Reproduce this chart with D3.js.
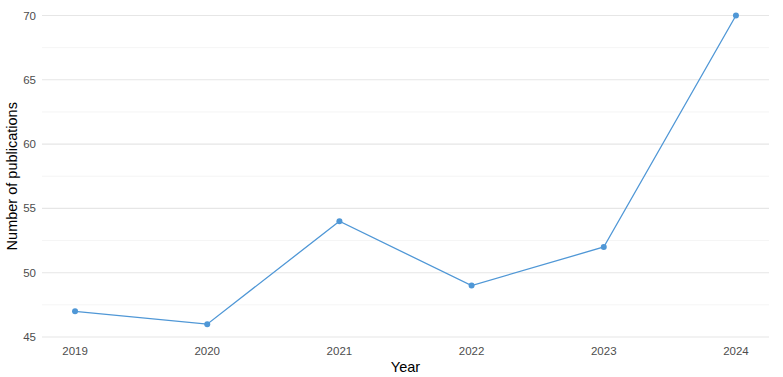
<!DOCTYPE html>
<html>
<head>
    <meta charset="utf-8">
    <title>Publications per year</title>
    <script src="https://d3js.org/d3.v7.min.js"></script>
    <style>
        body { margin: 0; background: #fff; }
        text { font-family: "Liberation Sans", Arial, sans-serif; }
    </style>
</head>
<body>
    <script>
        // data
        var years = [2019, 2020, 2021, 2022, 2023, 2024];
        var publications = [47, 46, 54, 49, 52, 70];
        var yTicks = [45, 50, 55, 60, 65, 70];
        var yMinor = [47.5, 52.5, 57.5, 62.5, 67.5];

        var width = 783, height = 377;

        var svg = d3.select("body").append("svg")
            .attr("width", width)
            .attr("height", height);

        // panel edges
        var left = 42, right = 769;

        var x = d3.scaleLinear()
            .domain([2018.75, 2024.25])
            .range([left, right]);

        var y = d3.scaleLinear()
            .domain([45, 70])
            .range([337, 15.5]);

        // grid lines
        svg.append("g").selectAll("line.minor")
            .data(yMinor)
            .enter().append("line")
            .attr("x1", left).attr("x2", right)
            .attr("y1", function(d) { return y(d); })
            .attr("y2", function(d) { return y(d); })
            .attr("stroke", "#ececec")
            .attr("stroke-width", 0.6);

        svg.append("g").selectAll("line.major")
            .data(yTicks)
            .enter().append("line")
            .attr("x1", left).attr("x2", right)
            .attr("y1", function(d) { return y(d); })
            .attr("y2", function(d) { return y(d); })
            .attr("stroke", "#e6e6e6")
            .attr("stroke-width", 1.1);

        // y tick labels
        svg.append("g").selectAll("text")
            .data(yTicks)
            .enter().append("text")
            .attr("x", 36)
            .attr("y", function(d) { return y(d); })
            .attr("dy", "0.35em")
            .attr("text-anchor", "end")
            .attr("font-size", 11.5)
            .attr("fill", "#4d4d4d")
            .text(function(d) { return d; });

        // x tick labels
        svg.append("g").selectAll("text")
            .data(years)
            .enter().append("text")
            .attr("x", function(d) { return x(d); })
            .attr("y", 355)
            .attr("text-anchor", "middle")
            .attr("font-size", 11.5)
            .attr("fill", "#4d4d4d")
            .text(function(d) { return d; });

        // axis titles
        svg.append("text")
            .attr("x", (left + right) / 2)
            .attr("y", 372)
            .attr("text-anchor", "middle")
            .attr("font-size", 14.5)
            .attr("fill", "#000")
            .text("Year");

        svg.append("text")
            .attr("transform", "translate(17," + y(57.5) + ") rotate(-90)")
            .attr("text-anchor", "middle")
            .attr("font-size", 14.5)
            .attr("fill", "#000")
            .text("Number of publications");

        // line and points
        var line = d3.line()
            .x(function(d, i) { return x(years[i]); })
            .y(function(d) { return y(d); });

        svg.append("path")
            .datum(publications)
            .attr("d", line)
            .attr("fill", "none")
            .attr("stroke", "#4f97d6")
            .attr("stroke-width", 1.3);

        svg.append("g").selectAll("circle")
            .data(publications)
            .enter().append("circle")
            .attr("cx", function(d, i) { return x(years[i]); })
            .attr("cy", function(d) { return y(d); })
            .attr("r", 3)
            .attr("fill", "#4f97d6");
    </script>
</body>
</html>
